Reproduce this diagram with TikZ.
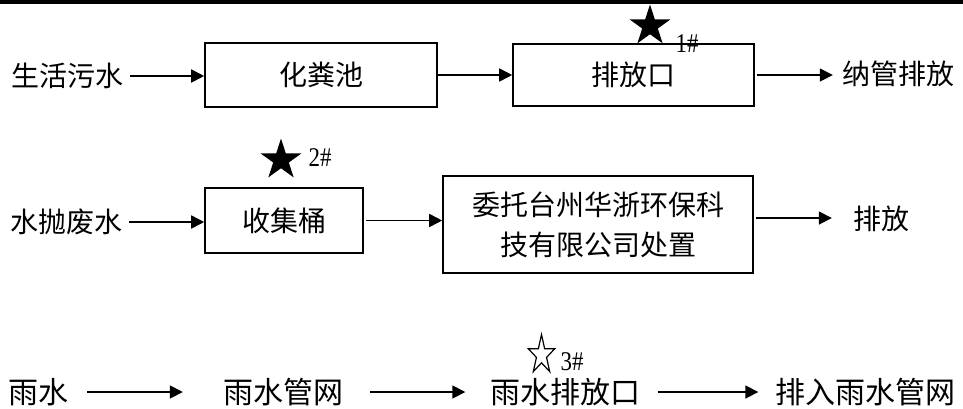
\documentclass[tikz,border=0pt]{standalone}
\usepackage{fontspec}
\setmainfont{Liberation Serif}
\newfontfamily\cjk{Noto Sans CJK SC}
\usetikzlibrary{shapes.geometric,arrows.meta}
\begin{document}
\begin{tikzpicture}[x=1pt,y=-1pt,
  box/.style={draw, line width=1.6pt, inner sep=0, font=\cjk\fontsize{28}{34}\selectfont},
  lbl/.style={inner sep=0, font=\cjk\fontsize{28}{34}\selectfont},
  lblb/.style={inner sep=0, font=\cjk\fontsize{30}{36}\selectfont},
  arr/.style={line width=1.7pt, -{Triangle[length=13pt,width=13pt]}},
  num/.style={inner sep=0, font=\fontsize{27}{29}\selectfont, xscale=0.85, transform shape},
  fstar/.style={star, star points=5, star point ratio=2.618, fill=black, inner sep=0, minimum size=43pt},
  ostar/.style={star, star points=5, star point ratio=2.618, draw, line width=1.2pt, inner sep=0, minimum size=41pt, xscale=0.68, transform shape}]
\useasboundingbox (0,0) rectangle (963,408);
\fill (0,0) rectangle (963,4);
% row 1
\node[lbl] (t1) at (67,76) {生活污水};
\node[box, minimum width=232pt, minimum height=64pt] (b1) at (321,75) {化粪池};
\node[box, minimum width=241pt, minimum height=62pt] (b2) at (633.5,75) {排放口};
\node[lbl] (t2) at (898,74) {纳管排放};
\draw[arr] ([xshift=7pt]t1.east) -- (t1.east -| b1.west);
\draw[arr] (b1.east) -- (b1.east -| b2.west);
\draw[arr] ([xshift=2pt]b2.east) -- ([xshift=-9pt]b2.east -| t2.west);
\node[fstar] (s1) at (650,26) {};
\node[num] (n1) at (687,44) {1\#};
% row 2
\node[lbl] (t3) at (66,222) {水抛废水};
\node[box, minimum width=158pt, minimum height=65pt] (b3) at (284,220.5) {收集桶};
\node[box, minimum width=310pt, minimum height=97pt, align=center, font=\cjk\fontsize{28}{40}\selectfont] (b4) at (598,224.5) {委托台州华浙环保科\\技有限公司处置};
\node[lbl] (t4) at (881,219) {排放};
\draw[arr] ([xshift=7pt]t3.east) -- (t3.east -| b3.west);
\draw[arr] ([xshift=2pt]b3.east) -- (b3.east -| b4.west);
\draw[arr] ([xshift=2pt,yshift=6.5pt]b4.east) -- ([xshift=-21pt,yshift=6.5pt]b4.east -| t4.west);
\node[fstar] (s2) at (281,160) {};
\node[num] (n2) at (320,158) {2\#};
% row 3
\node[lblb] (t5) at (39,392) {雨水};
\node[lblb] (t6) at (283,392) {雨水管网};
\node[lblb] (t7) at (565.5,392) {雨水排放口};
\node[lblb] (t8) at (865.5,392) {排入雨水管网};
\draw[arr] ([xshift=18pt]t5.east) -- ([xshift=-40pt]t5.east -| t6.west);
\draw[arr] ([xshift=27pt]t6.east) -- ([xshift=-25pt]t6.east -| t7.west);
\draw[arr] ([xshift=17pt]t7.east) -- ([xshift=-17pt]t7.east -| t8.west);
\node[ostar] (s3) at (541.5,355) {};
\node[num] (n3) at (572,362) {3\#};
\end{tikzpicture}
\end{document}
